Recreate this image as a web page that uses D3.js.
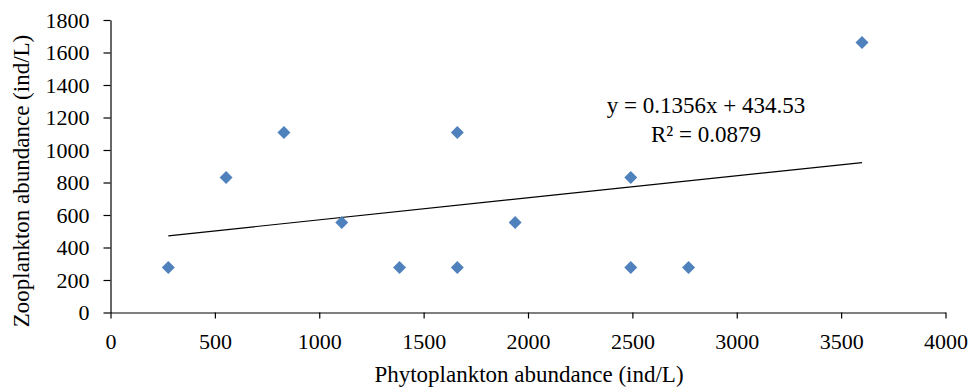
<!DOCTYPE html>
<html>
<head>
<meta charset="utf-8">
<script src="https://cdn.jsdelivr.net/npm/d3@7"></script>
<style>
  body { margin: 0; background: #fff; }
  svg text { font-family: "Liberation Serif", "Times New Roman", serif; fill: #000; }
</style>
</head>
<body>
<svg id="chart" width="970" height="387"></svg>
<script>
// phytoplankton (x) vs zooplankton (y), ind/L
var phyto = [276.9, 553.8, 830.8, 1107.7, 1384.6, 1661.5, 1661.5, 1938.5, 2492.3, 2492.3, 2769.2, 3600];
var zoo   = [276.9, 830.8, 1107.7, 553.8, 276.9, 1107.7, 276.9, 553.8, 830.8, 276.9, 276.9, 1661.5];
var xTicks = [0, 500, 1000, 1500, 2000, 2500, 3000, 3500, 4000];
var yTicks = [0, 200, 400, 600, 800, 1000, 1200, 1400, 1600, 1800];
var trendSlope = 0.1356;
var trendIntercept = 434.53;
var trendLabels = ["y = 0.1356x + 434.53", "R\u00b2 = 0.0879"];

var svg = d3.select("#chart");
var margin = {"left": 110.5, "right": 24.5, "top": 20, "bottom": 74.5};
var width = 970, height = 387;

var xScale = d3.scaleLinear().domain([0, 4000]).range([margin.left, width - margin.right]);
var yScale = d3.scaleLinear().domain([0, 1800]).range([height - margin.bottom, margin.top]);

var xAxis = d3.axisBottom(xScale).tickValues(xTicks).tickFormat(d3.format("d"))
              .tickSize(6).tickPadding(15).tickSizeOuter(0);
var yAxis = d3.axisLeft(yScale).tickValues(yTicks).tickFormat(d3.format("d"))
              .tickSize(7).tickPadding(14).tickSizeOuter(0);

var gx = svg.append("g").attr("transform", "translate(0," + (height - margin.bottom) + ")").call(xAxis);
var gy = svg.append("g").attr("transform", "translate(" + margin.left + ",0)").call(yAxis);

[gx, gy].forEach(function(g) {
  g.selectAll("path, line").attr("stroke", "#000").attr("stroke-width", 1.2);
  g.selectAll("text").style("font-size", "22px").style("font-family", "Liberation Serif");
});

// trend line over data range
var xExt = d3.extent(phyto);
svg.append("line")
   .attr("x1", xScale(xExt[0])).attr("y1", yScale(trendSlope * xExt[0] + trendIntercept))
   .attr("x2", xScale(xExt[1])).attr("y2", yScale(trendSlope * xExt[1] + trendIntercept))
   .attr("stroke", "#000").attr("stroke-width", 1.2);

var points = phyto.map(function(d, i) { return {x: d, y: zoo[i]}; });
var diamond = d3.symbol().type(d3.symbolSquare).size(84);
svg.append("g").selectAll("path")
   .data(points).enter().append("path")
   .attr("d", diamond)
   .attr("transform", function(d) { return "translate(" + xScale(d.x) + "," + yScale(d.y) + ") rotate(45)"; })
   .attr("fill", "#4F81BD");

// equation label
svg.append("text").attr("x", 706).attr("y", 113).attr("text-anchor", "middle")
   .style("font-size", "23px").text(trendLabels[0]);
svg.append("text").attr("x", 706).attr("y", 142).attr("text-anchor", "middle")
   .style("font-size", "23px").text(trendLabels[1]);

// axis titles
svg.append("text").attr("x", 529).attr("y", 382)
   .attr("text-anchor", "middle").style("font-size", "23px").text("Phytoplankton abundance (ind/L)");
svg.append("text").attr("transform", "translate(29," + 181 + ") rotate(-90)")
   .attr("text-anchor", "middle").style("font-size", "23px").text("Zooplankton abundance (ind/L)");
</script>
</body>
</html>
